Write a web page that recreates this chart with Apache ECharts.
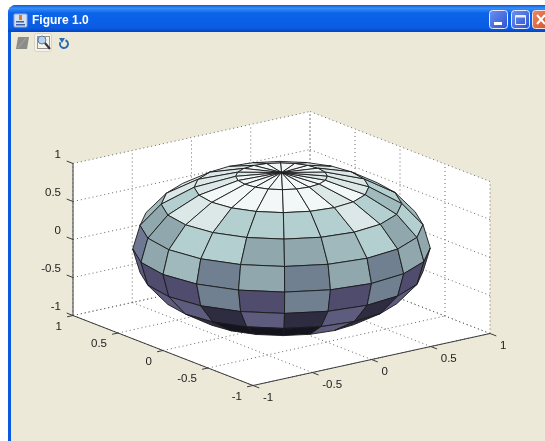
<!DOCTYPE html>
<html>
<head>
<meta charset="utf-8">
<title>Figure 1.0</title>
<style>
html, body { margin: 0; padding: 0; background: #fff; }
#chart { width: 545px; height: 441px; }
</style>
<script src="https://cdn.jsdelivr.net/npm/echarts@6/dist/echarts.min.js"></script>
</head>
<body>
<div id="chart"></div>
<script>
"use strict";

// axis ticks and their labels, same for x, y, z
var tickValues = [-1, -0.5, 0, 0.5, 1];
var tickLabels = ["-1", "-0.5", "0", "0.5", "1"];

// sphere mesh edges in degrees
var latEdges = [90, 72, 54, 36, 18, 0, -18, -36, -54, -72, -90];
var lonEdges = [0, 18, 36, 54, 72, 90, 108, 126, 144, 162, 180, 198, 216, 234, 252, 270, 288, 306, 324, 342, 360];

// face colours, lightest to darkest
var bonePalette = ["#f2f7f8", "#dce8e8", "#b4cfd0", "#a0b9bc", "#90a7ae", "#708090", "#6f7892", "#5e5c7e", "#4f4c6e", "#2e2c40", "#14141f"];

// palette index per face: row = latitude band from the top, col = longitude band
var faceShades = [
    [0, 0, 0, 0, 0, 0, 0, 1, 0, 0, 0, 0, 0, 0, 0, 0, 0, 1, 1, 0],
    [1, 1, 1, 1, 1, 1, 1, 1, 1, 0, 0, 0, 0, 0, 0, 1, 0, 1, 1, 1],
    [2, 2, 2, 2, 2, 2, 1, 1, 2, 1, 1, 2, 2, 2, 2, 1, 2, 3, 2, 2],
    [3, 3, 3, 3, 3, 3, 3, 3, 4, 4, 2, 2, 4, 4, 3, 2, 4, 2, 3, 3],
    [4, 4, 4, 4, 4, 4, 4, 4, 6, 4, 3, 5, 4, 5, 4, 5, 4, 4, 4, 4],
    [8, 8, 8, 8, 8, 8, 8, 7, 7, 8, 8, 5, 8, 5, 8, 5, 8, 8, 8, 8],
    [8, 8, 8, 8, 8, 8, 8, 8, 8, 7, 7, 9, 7, 9, 7, 9, 7, 8, 8, 8],
    [9, 9, 9, 9, 9, 9, 9, 9, 9, 7, 9, 10, 10, 10, 7, 9, 7, 9, 9, 9],
    [10, 10, 10, 10, 10, 10, 10, 10, 10, 10, 10, 10, 10, 10, 8, 10, 10, 10, 10, 10],
    [10, 10, 10, 10, 10, 10, 10, 10, 10, 10, 10, 10, 10, 10, 10, 10, 10, 10, 10, 10]
];

var LIMIT = 1;
var FONT = "11.5px 'Liberation Sans', Arial, sans-serif";

// fixed 3d view: screen offset of one data unit on each axis
var view = {
    origin: [281.5, 248.5],
    x: [118.5, -26],
    y: [-90, -35],
    z: [0, -76]
};

function project(p) {
    return [
        view.origin[0] + p[0] * view.x[0] + p[1] * view.y[0] + p[2] * view.z[0],
        view.origin[1] + p[0] * view.x[1] + p[1] * view.y[1] + p[2] * view.z[1]
    ];
}

function toPixel(api, p) {
    return api.coord(project(p));
}

function spherePoint(lat, lon) {
    var a = lat * Math.PI / 180;
    var b = lon * Math.PI / 180;
    return [Math.cos(a) * Math.cos(b), Math.cos(a) * Math.sin(b), Math.sin(a)];
}

// white box: floor and the two back walls
function renderBox(params, api) {
    var L = LIMIT;
    var pts = [[-L, L, L], [L, L, L], [L, -L, L], [L, -L, -L], [-L, -L, -L], [-L, L, -L]];
    return {
        type: "polygon",
        shape: { points: pts.map(_ => toPixel(api, _)) },
        style: { fill: "#ffffff", stroke: null }
    };
}

// dotted grid: one tick gives a line on each wall pair
function renderGrid(params, api) {
    var t = api.value(0);
    var L = LIMIT;
    var segs = [
        [[t, -L, -L], [t, L, -L]],
        [[-L, t, -L], [L, t, -L]],
        [[t, L, -L], [t, L, L]],
        [[-L, L, t], [L, L, t]],
        [[L, t, -L], [L, t, L]],
        [[L, -L, t], [L, L, t]]
    ];
    return {
        type: "group",
        children: segs.map(_ => ({
            type: "line",
            shape: lineShape(api, _[0], _[1]),
            style: { stroke: "#666", lineWidth: 1, lineDash: [1, 3] }
        }))
    };
}

function renderFace(params, api) {
    var j = api.value(0);
    var i = api.value(1);
    var corners = [
        spherePoint(latEdges[i], lonEdges[j]),
        spherePoint(latEdges[i], lonEdges[j + 1]),
        spherePoint(latEdges[i + 1], lonEdges[j + 1]),
        spherePoint(latEdges[i + 1], lonEdges[j])
    ].map(_ => toPixel(api, _));

    // back faces wind the other way on screen
    var area = 0;
    corners.forEach((c, k) => {
        var n = corners[(k + 1) % 4];
        area += c[0] * n[1] - n[0] * c[1];
    });
    if (area <= 0) {
        return null;
    }
    return {
        type: "polygon",
        shape: { points: corners },
        style: { fill: bonePalette[api.value(2)], stroke: "#1a1a1a", lineWidth: 0.9, lineJoin: "round" }
    };
}

function lineShape(api, a, b) {
    var p = toPixel(api, a);
    var q = toPixel(api, b);
    return { x1: p[0], y1: p[1], x2: q[0], y2: q[1] };
}

// axis lines and tick marks, ticks stick out of the box
function renderAxes(params, api) {
    var t = api.value(0);
    var L = LIMIT;
    var style = { stroke: "#3c3c3c", lineWidth: 1 };
    var kids = [
        { type: "line", shape: lineShape(api, [t, -L, -L], [t, -L - 0.07, -L]), style: style },
        { type: "line", shape: lineShape(api, [-L, t, -L], [-L - 0.05, t, -L]), style: style },
        { type: "line", shape: lineShape(api, [-L, L, t], [-L, L + 0.07, t]), style: style }
    ];
    if (params.dataIndex === 0) {
        kids.push({ type: "line", shape: lineShape(api, [-L, -L, -L], [L, -L, -L]), style: style });
        kids.push({ type: "line", shape: lineShape(api, [-L, -L, -L], [-L, L, -L]), style: style });
        kids.push({ type: "line", shape: lineShape(api, [-L, L, -L], [-L, L, L]), style: style });
    }
    return { type: "group", children: kids };
}

function renderLabels(params, api) {
    var t = api.value(0);
    var L = LIMIT;
    var text = tickLabels[params.dataIndex];
    var labelStyle = (p, dx, dy, align) => ({
        type: "text",
        style: {
            x: p[0] + dx, y: p[1] + dy, text: text, font: FONT, fill: "#222",
            textAlign: align, textVerticalAlign: "middle"
        }
    });
    return {
        type: "group",
        children: [
            labelStyle(toPixel(api, [t, -L, -L]), 10, 12.5, "left"),
            labelStyle(toPixel(api, [-L, t, -L]), -11, 11, "right"),
            labelStyle(toPixel(api, [-L, L, t]), -12, -9, "right")
        ]
    };
}

var faces = [];
faceShades.forEach((row, i) => {
    row.forEach((shade, j) => {
        faces.push([j, i, shade]);
    });
});

var tickData = tickValues.map(_ => [_]);

function customSeries(name, fn, data, z) {
    return {
        name: name,
        type: "custom",
        coordinateSystem: "cartesian2d",
        renderItem: fn,
        data: data,
        z: z,
        silent: true,
        animation: false,
        clip: false
    };
}

// window frame, the part of the screenshot around the axes
var chrome = [
    { type: "rect", shape: { x: 0, y: 0, width: 545, height: 441 }, style: { fill: "#ffffff" }, z: -10 },
    { type: "rect", shape: { x: 8, y: 5, width: 537, height: 436, r: [8, 0, 0, 0] }, style: { fill: "#0a5ae0" }, z: -9 },
    {
        type: "rect",
        shape: { x: 8, y: 5, width: 537, height: 27, r: [8, 0, 0, 0] },
        style: {
            fill: new echarts.graphic.LinearGradient(0, 0, 0, 1, [
                { offset: 0, color: "#0a5bdc" },
                { offset: 0.12, color: "#3a8ef8" },
                { offset: 0.3, color: "#0a64ea" },
                { offset: 0.85, color: "#0a5ce2" },
                { offset: 1, color: "#0343c4" }
            ])
        },
        z: -8
    },
    { type: "rect", shape: { x: 11, y: 32, width: 534, height: 409 }, style: { fill: "#ece9d8" }, z: -8 },

    // java cup icon
    { type: "rect", shape: { x: 14, y: 14, width: 13, height: 13, r: 1 }, style: { fill: "#d5e0f2", stroke: "#8fa8d8", lineWidth: 1 } },
    { type: "rect", shape: { x: 19, y: 15, width: 3, height: 5 }, style: { fill: "#e07830" } },
    { type: "rect", shape: { x: 16, y: 21, width: 8, height: 1.5 }, style: { fill: "#3a5fa8" } },
    { type: "rect", shape: { x: 16, y: 24, width: 9, height: 1.5 }, style: { fill: "#3a5fa8" } },
    {
        type: "text",
        style: { x: 32, y: 21, text: "Figure 1.0", font: "bold 12px 'Liberation Sans', Arial, sans-serif", fill: "#ffffff", textAlign: "left", textVerticalAlign: "middle" }
    },

    // minimize, maximize, close
    {
        type: "rect", shape: { x: 489.5, y: 10.5, width: 18, height: 18, r: 3 },
        style: { fill: new echarts.graphic.LinearGradient(0, 0, 1, 1, [{ offset: 0, color: "#6f93f0" }, { offset: 1, color: "#2a4fd0" }]), stroke: "#e4ecfc", lineWidth: 1 }
    },
    { type: "rect", shape: { x: 494, y: 22, width: 8, height: 3 }, style: { fill: "#ffffff" } },
    {
        type: "rect", shape: { x: 511.5, y: 10.5, width: 18, height: 18, r: 3 },
        style: { fill: new echarts.graphic.LinearGradient(0, 0, 1, 1, [{ offset: 0, color: "#6f93f0" }, { offset: 1, color: "#2a4fd0" }]), stroke: "#e4ecfc", lineWidth: 1 }
    },
    { type: "rect", shape: { x: 515.5, y: 15.5, width: 10, height: 9 }, style: { fill: null, stroke: "#e8eefc", lineWidth: 1 } },
    { type: "rect", shape: { x: 515.5, y: 15.5, width: 10, height: 2 }, style: { fill: "#e8eefc" } },
    {
        type: "rect", shape: { x: 532.5, y: 10.5, width: 20, height: 18, r: 3 },
        style: { fill: new echarts.graphic.LinearGradient(0, 0, 1, 1, [{ offset: 0, color: "#ec8a68" }, { offset: 1, color: "#d04a20" }]), stroke: "#f4e0d8", lineWidth: 1 }
    },
    { type: "line", shape: { x1: 537, y1: 15, x2: 545, y2: 24 }, style: { stroke: "#ffffff", lineWidth: 2 } },
    { type: "line", shape: { x1: 537, y1: 24, x2: 545, y2: 15 }, style: { stroke: "#ffffff", lineWidth: 2 } },

    // toolbar: greyed pen, pressed zoom, rotate
    { type: "polygon", shape: { points: [[18, 37], [29, 37], [27, 49], [16, 49]] }, style: { fill: "#8c8c88" } },
    { type: "line", shape: { x1: 18, y1: 48, x2: 26, y2: 38 }, style: { stroke: "#a8a8a4", lineWidth: 1 } },
    { type: "rect", shape: { x: 34.5, y: 33.5, width: 17, height: 18, r: 2 }, style: { fill: "#f6f4ea", stroke: "#d8d4c4", lineWidth: 1 } },
    { type: "rect", shape: { x: 37.5, y: 36.5, width: 12, height: 12 }, style: { fill: null, stroke: "#333", lineWidth: 1, lineDash: [1, 1] } },
    { type: "circle", shape: { cx: 42, cy: 40, r: 4 }, style: { fill: "#b8d0ec", stroke: "#5a7ca8", lineWidth: 1 } },
    { type: "line", shape: { x1: 45, y1: 43, x2: 50, y2: 49 }, style: { stroke: "#333", lineWidth: 2 } },
    { type: "arc", shape: { cx: 64, cy: 44, r: 4, startAngle: -1.2, endAngle: 3.6 }, style: { fill: null, stroke: "#2a6cb0", lineWidth: 2 } },
    { type: "polygon", shape: { points: [[59, 38], [65, 38], [62, 43]] }, style: { fill: "#2a6cb0" } }
];

var chart = echarts.init(document.getElementById("chart"), null, { renderer: "canvas" });

chart.setOption({
    animation: false,
    backgroundColor: "#ffffff",
    graphic: { elements: chrome },
    grid: { left: 0, right: 0, top: 0, bottom: 0, containLabel: false },
    xAxis: { type: "value", min: 0, max: 545, show: false },
    yAxis: { type: "value", min: 0, max: 441, inverse: true, show: false },
    series: [
        customSeries("box", renderBox, [[0]], 1),
        customSeries("grid", renderGrid, tickData, 2),
        customSeries("axes", renderAxes, tickData, 3),
        customSeries("labels", renderLabels, tickData, 3),
        customSeries("surface", renderFace, faces, 4)
    ]
});
</script>
</body>
</html>
